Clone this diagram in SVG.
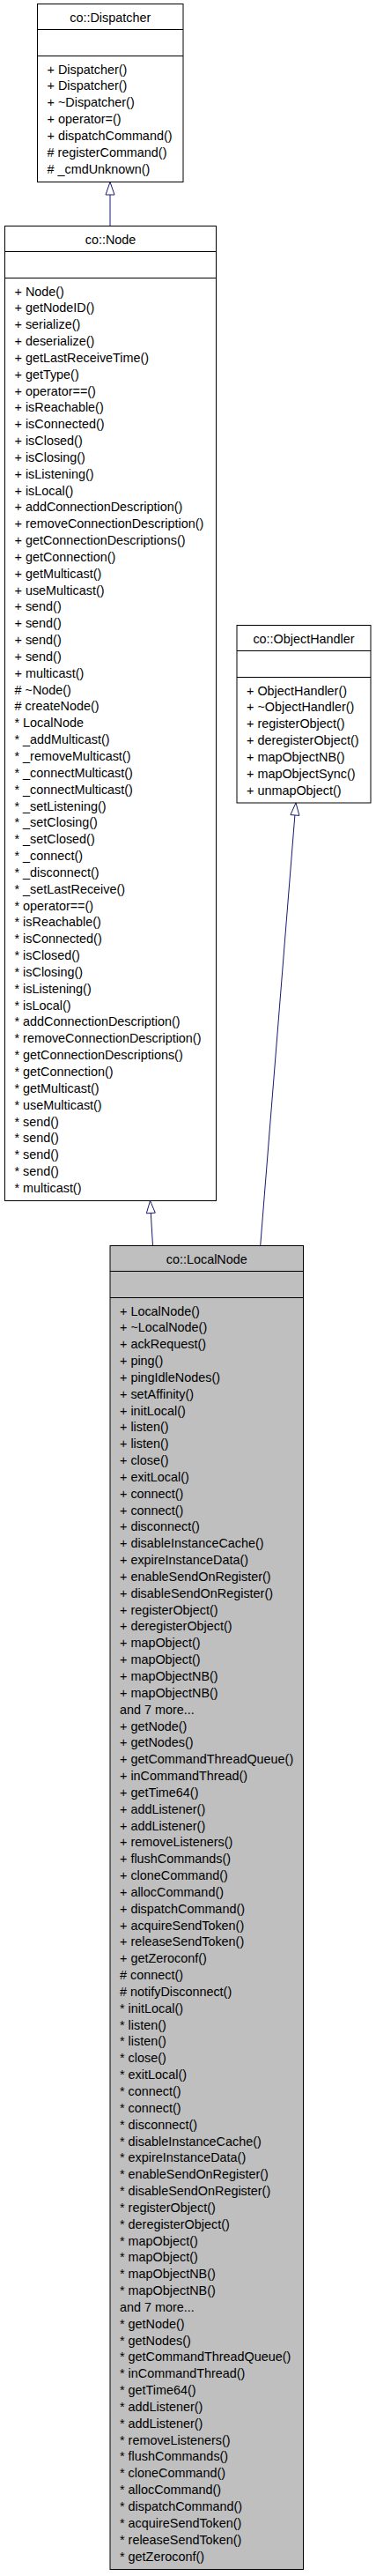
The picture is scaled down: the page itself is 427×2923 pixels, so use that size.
<svg xmlns="http://www.w3.org/2000/svg" width="427" height="2923" viewBox="0 0 427 2923">
<style>
.box{fill:#ffffff;stroke:#000000;stroke-width:1}
.grey{fill:#bfbfbf}
.sep{stroke:#000000;stroke-width:1;fill:none}
.t{font-family:"Liberation Sans",Arial,sans-serif;font-size:14.4px;fill:#000000}
.title{text-anchor:middle}
.edge{stroke:#191970;stroke-width:1;fill:none}
.head{stroke:#191970;stroke-width:1;fill:#ffffff}
</style>
<rect width="427" height="2923" fill="#ffffff"/>
<g id="connectors">
<line class="edge" x1="125" y1="256.5" x2="125" y2="221"/>
<polygon class="head" points="125,206.5 130,221 120,221"/>
<line class="edge" x1="173.5" y1="1413.5" x2="171.3" y2="1376.5"/>
<polygon class="head" points="170.5,1362.5 176.3,1376.2 166.3,1376.8"/>
<line class="edge" x1="295.7" y1="1413.5" x2="334.9" y2="925"/>
<polygon class="head" points="336,911 339.9,925.4 329.9,924.6"/>
</g>
<g id="node-dispatcher">
<rect class="box" x="42.5" y="4.5" width="165.5" height="202"/>
<line class="sep" x1="42.5" y1="33.5" x2="208" y2="33.5"/>
<line class="sep" x1="42.5" y1="63.5" x2="208" y2="63.5"/>
<text class="t title" x="125.25" y="24.5">co::Dispatcher</text>
<text class="t"><tspan x="53.5" y="83.5">+ Dispatcher()</tspan><tspan x="53.5" dy="18.84">+ Dispatcher()</tspan><tspan x="53.5" dy="18.84">+ ~Dispatcher()</tspan><tspan x="53.5" dy="18.84">+ operator=()</tspan><tspan x="53.5" dy="18.84">+ dispatchCommand()</tspan><tspan x="53.5" dy="18.84"># registerCommand()</tspan><tspan x="53.5" dy="18.84"># _cmdUnknown()</tspan></text>
</g>
<g id="node-node">
<rect class="box" x="5.5" y="256.5" width="240" height="1106"/>
<line class="sep" x1="5.5" y1="285.5" x2="245.5" y2="285.5"/>
<line class="sep" x1="5.5" y1="315.5" x2="245.5" y2="315.5"/>
<text class="t title" x="125.5" y="276.5">co::Node</text>
<text class="t"><tspan x="16.5" y="335.5">+ Node()</tspan><tspan x="16.5" dy="18.84">+ getNodeID()</tspan><tspan x="16.5" dy="18.84">+ serialize()</tspan><tspan x="16.5" dy="18.84">+ deserialize()</tspan><tspan x="16.5" dy="18.84">+ getLastReceiveTime()</tspan><tspan x="16.5" dy="18.84">+ getType()</tspan><tspan x="16.5" dy="18.84">+ operator==()</tspan><tspan x="16.5" dy="18.84">+ isReachable()</tspan><tspan x="16.5" dy="18.84">+ isConnected()</tspan><tspan x="16.5" dy="18.84">+ isClosed()</tspan><tspan x="16.5" dy="18.84">+ isClosing()</tspan><tspan x="16.5" dy="18.84">+ isListening()</tspan><tspan x="16.5" dy="18.84">+ isLocal()</tspan><tspan x="16.5" dy="18.84">+ addConnectionDescription()</tspan><tspan x="16.5" dy="18.84">+ removeConnectionDescription()</tspan><tspan x="16.5" dy="18.84">+ getConnectionDescriptions()</tspan><tspan x="16.5" dy="18.84">+ getConnection()</tspan><tspan x="16.5" dy="18.84">+ getMulticast()</tspan><tspan x="16.5" dy="18.84">+ useMulticast()</tspan><tspan x="16.5" dy="18.84">+ send()</tspan><tspan x="16.5" dy="18.84">+ send()</tspan><tspan x="16.5" dy="18.84">+ send()</tspan><tspan x="16.5" dy="18.84">+ send()</tspan><tspan x="16.5" dy="18.84">+ multicast()</tspan><tspan x="16.5" dy="18.84"># ~Node()</tspan><tspan x="16.5" dy="18.84"># createNode()</tspan><tspan x="16.5" dy="18.84">* LocalNode</tspan><tspan x="16.5" dy="18.84">* _addMulticast()</tspan><tspan x="16.5" dy="18.84">* _removeMulticast()</tspan><tspan x="16.5" dy="18.84">* _connectMulticast()</tspan><tspan x="16.5" dy="18.84">* _connectMulticast()</tspan><tspan x="16.5" dy="18.84">* _setListening()</tspan><tspan x="16.5" dy="18.84">* _setClosing()</tspan><tspan x="16.5" dy="18.84">* _setClosed()</tspan><tspan x="16.5" dy="18.84">* _connect()</tspan><tspan x="16.5" dy="18.84">* _disconnect()</tspan><tspan x="16.5" dy="18.84">* _setLastReceive()</tspan><tspan x="16.5" dy="18.84">* operator==()</tspan><tspan x="16.5" dy="18.84">* isReachable()</tspan><tspan x="16.5" dy="18.84">* isConnected()</tspan><tspan x="16.5" dy="18.84">* isClosed()</tspan><tspan x="16.5" dy="18.84">* isClosing()</tspan><tspan x="16.5" dy="18.84">* isListening()</tspan><tspan x="16.5" dy="18.84">* isLocal()</tspan><tspan x="16.5" dy="18.84">* addConnectionDescription()</tspan><tspan x="16.5" dy="18.84">* removeConnectionDescription()</tspan><tspan x="16.5" dy="18.84">* getConnectionDescriptions()</tspan><tspan x="16.5" dy="18.84">* getConnection()</tspan><tspan x="16.5" dy="18.84">* getMulticast()</tspan><tspan x="16.5" dy="18.84">* useMulticast()</tspan><tspan x="16.5" dy="18.84">* send()</tspan><tspan x="16.5" dy="18.84">* send()</tspan><tspan x="16.5" dy="18.84">* send()</tspan><tspan x="16.5" dy="18.84">* send()</tspan><tspan x="16.5" dy="18.84">* multicast()</tspan></text>
</g>
<g id="node-objecthandler">
<rect class="box" x="269" y="709.5" width="152" height="201.5"/>
<line class="sep" x1="269" y1="738.5" x2="421" y2="738.5"/>
<line class="sep" x1="269" y1="768.5" x2="421" y2="768.5"/>
<text class="t title" x="345" y="729.5">co::ObjectHandler</text>
<text class="t"><tspan x="280" y="788.5">+ ObjectHandler()</tspan><tspan x="280" dy="18.84">+ ~ObjectHandler()</tspan><tspan x="280" dy="18.84">+ registerObject()</tspan><tspan x="280" dy="18.84">+ deregisterObject()</tspan><tspan x="280" dy="18.84">+ mapObjectNB()</tspan><tspan x="280" dy="18.84">+ mapObjectSync()</tspan><tspan x="280" dy="18.84">+ unmapObject()</tspan></text>
</g>
<g id="node-localnode">
<rect class="box grey" x="125" y="1413.5" width="219.5" height="1502"/>
<line class="sep" x1="125" y1="1442.5" x2="344.5" y2="1442.5"/>
<line class="sep" x1="125" y1="1472.5" x2="344.5" y2="1472.5"/>
<text class="t title" x="234.75" y="1433.5">co::LocalNode</text>
<text class="t"><tspan x="136" y="1492.5">+ LocalNode()</tspan><tspan x="136" dy="18.84">+ ~LocalNode()</tspan><tspan x="136" dy="18.84">+ ackRequest()</tspan><tspan x="136" dy="18.84">+ ping()</tspan><tspan x="136" dy="18.84">+ pingIdleNodes()</tspan><tspan x="136" dy="18.84">+ setAffinity()</tspan><tspan x="136" dy="18.84">+ initLocal()</tspan><tspan x="136" dy="18.84">+ listen()</tspan><tspan x="136" dy="18.84">+ listen()</tspan><tspan x="136" dy="18.84">+ close()</tspan><tspan x="136" dy="18.84">+ exitLocal()</tspan><tspan x="136" dy="18.84">+ connect()</tspan><tspan x="136" dy="18.84">+ connect()</tspan><tspan x="136" dy="18.84">+ disconnect()</tspan><tspan x="136" dy="18.84">+ disableInstanceCache()</tspan><tspan x="136" dy="18.84">+ expireInstanceData()</tspan><tspan x="136" dy="18.84">+ enableSendOnRegister()</tspan><tspan x="136" dy="18.84">+ disableSendOnRegister()</tspan><tspan x="136" dy="18.84">+ registerObject()</tspan><tspan x="136" dy="18.84">+ deregisterObject()</tspan><tspan x="136" dy="18.84">+ mapObject()</tspan><tspan x="136" dy="18.84">+ mapObject()</tspan><tspan x="136" dy="18.84">+ mapObjectNB()</tspan><tspan x="136" dy="18.84">+ mapObjectNB()</tspan><tspan x="136" dy="18.84">and 7 more...</tspan><tspan x="136" dy="18.84">+ getNode()</tspan><tspan x="136" dy="18.84">+ getNodes()</tspan><tspan x="136" dy="18.84">+ getCommandThreadQueue()</tspan><tspan x="136" dy="18.84">+ inCommandThread()</tspan><tspan x="136" dy="18.84">+ getTime64()</tspan><tspan x="136" dy="18.84">+ addListener()</tspan><tspan x="136" dy="18.84">+ addListener()</tspan><tspan x="136" dy="18.84">+ removeListeners()</tspan><tspan x="136" dy="18.84">+ flushCommands()</tspan><tspan x="136" dy="18.84">+ cloneCommand()</tspan><tspan x="136" dy="18.84">+ allocCommand()</tspan><tspan x="136" dy="18.84">+ dispatchCommand()</tspan><tspan x="136" dy="18.84">+ acquireSendToken()</tspan><tspan x="136" dy="18.84">+ releaseSendToken()</tspan><tspan x="136" dy="18.84">+ getZeroconf()</tspan><tspan x="136" dy="18.84"># connect()</tspan><tspan x="136" dy="18.84"># notifyDisconnect()</tspan><tspan x="136" dy="18.84">* initLocal()</tspan><tspan x="136" dy="18.84">* listen()</tspan><tspan x="136" dy="18.84">* listen()</tspan><tspan x="136" dy="18.84">* close()</tspan><tspan x="136" dy="18.84">* exitLocal()</tspan><tspan x="136" dy="18.84">* connect()</tspan><tspan x="136" dy="18.84">* connect()</tspan><tspan x="136" dy="18.84">* disconnect()</tspan><tspan x="136" dy="18.84">* disableInstanceCache()</tspan><tspan x="136" dy="18.84">* expireInstanceData()</tspan><tspan x="136" dy="18.84">* enableSendOnRegister()</tspan><tspan x="136" dy="18.84">* disableSendOnRegister()</tspan><tspan x="136" dy="18.84">* registerObject()</tspan><tspan x="136" dy="18.84">* deregisterObject()</tspan><tspan x="136" dy="18.84">* mapObject()</tspan><tspan x="136" dy="18.84">* mapObject()</tspan><tspan x="136" dy="18.84">* mapObjectNB()</tspan><tspan x="136" dy="18.84">* mapObjectNB()</tspan><tspan x="136" dy="18.84">and 7 more...</tspan><tspan x="136" dy="18.84">* getNode()</tspan><tspan x="136" dy="18.84">* getNodes()</tspan><tspan x="136" dy="18.84">* getCommandThreadQueue()</tspan><tspan x="136" dy="18.84">* inCommandThread()</tspan><tspan x="136" dy="18.84">* getTime64()</tspan><tspan x="136" dy="18.84">* addListener()</tspan><tspan x="136" dy="18.84">* addListener()</tspan><tspan x="136" dy="18.84">* removeListeners()</tspan><tspan x="136" dy="18.84">* flushCommands()</tspan><tspan x="136" dy="18.84">* cloneCommand()</tspan><tspan x="136" dy="18.84">* allocCommand()</tspan><tspan x="136" dy="18.84">* dispatchCommand()</tspan><tspan x="136" dy="18.84">* acquireSendToken()</tspan><tspan x="136" dy="18.84">* releaseSendToken()</tspan><tspan x="136" dy="18.84">* getZeroconf()</tspan></text>
</g>
</svg>
